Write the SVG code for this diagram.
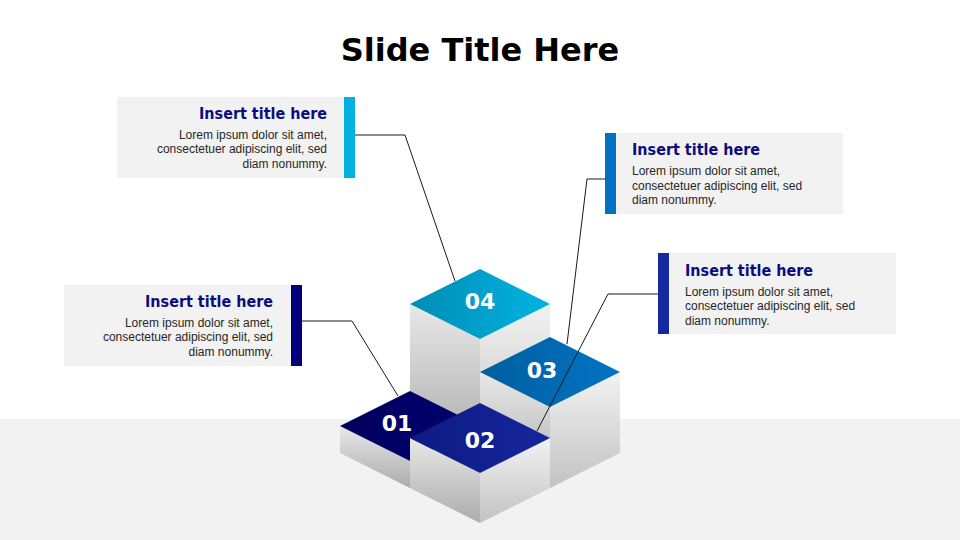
<svg xmlns="http://www.w3.org/2000/svg" width="960" height="540" viewBox="0 0 960 540">
  <defs>
    <linearGradient id="gLeft" x1="0" y1="0" x2="0" y2="1">
      <stop offset="0" stop-color="#e8e8e8"/>
      <stop offset="1" stop-color="#acacac"/>
    </linearGradient>
    <linearGradient id="gRight" x1="0" y1="0" x2="0" y2="1">
      <stop offset="0" stop-color="#f2f2f2"/>
      <stop offset="1" stop-color="#c2c2c2"/>
    </linearGradient>
    <linearGradient id="g04" x1="0" y1="0.5" x2="1" y2="0.5">
      <stop offset="0" stop-color="#008cb4"/>
      <stop offset="1" stop-color="#00b4e2"/>
    </linearGradient>
    <linearGradient id="g03" x1="0" y1="0.5" x2="1" y2="0.5">
      <stop offset="0" stop-color="#005e9e"/>
      <stop offset="1" stop-color="#0074c4"/>
    </linearGradient>
    <linearGradient id="g02" x1="0" y1="0.5" x2="1" y2="0.5">
      <stop offset="0" stop-color="#0e1b82"/>
      <stop offset="1" stop-color="#15259c"/>
    </linearGradient>
    <linearGradient id="g01" x1="0" y1="0.5" x2="1" y2="0.5">
      <stop offset="0" stop-color="#00005e"/>
      <stop offset="1" stop-color="#000070"/>
    </linearGradient>
  </defs>
  <style>
    .title { font-family: "DejaVu Sans", Verdana, sans-serif; font-weight: bold; font-size: 32px; fill: #000000; }
    .btitle { font-family: "DejaVu Sans", Verdana, sans-serif; font-weight: bold; font-size: 15.5px; fill: #0c0c80; }
    .body { font-family: "Liberation Sans", Arial, sans-serif; font-size: 12px; fill: #262626; }
    .num { font-family: "DejaVu Sans", Verdana, sans-serif; font-weight: bold; font-size: 22px; fill: #ffffff; text-anchor: middle; }
    .card { fill: #f2f2f2; }
    .lf { fill: url(#gLeft); }
    .rf { fill: url(#gRight); }
    .conn { fill: none; stroke: #1a1a1a; stroke-width: 1; }
  </style>

  <rect x="0" y="0" width="960" height="540" fill="#ffffff"/>
  <rect x="0" y="419" width="960" height="121" fill="#f2f2f2"/>

  <text class="title" x="480" y="61" text-anchor="middle">Slide Title Here</text>

  <!-- Blocks -->
  <g id="block04">
    <polygon class="lf" points="410,304 480,339 480,453 410,418"/>
    <polygon class="rf" points="480,339 550,304 550,418 480,453"/>
    <polygon fill="url(#g04)" points="480,269 550,304 480,339 410,304"/>
    <text class="num" x="480" y="309">04</text>
  </g>
  <g id="block03">
    <polygon class="lf" points="480,372 550,407 550,488 480,453"/>
    <polygon class="rf" points="550,407 620,372 620,453 550,488"/>
    <polygon fill="url(#g03)" points="550,337 620,372 550,407 480,372"/>
    <text class="num" x="542" y="378">03</text>
  </g>
  <g id="block01">
    <polygon class="lf" points="340,426 410,461 410,488 340,453"/>
    <polygon class="rf" points="410,461 480,426 480,453 410,488"/>
    <polygon fill="url(#g01)" points="410,391 480,426 410,461 340,426"/>
    <text class="num" x="397" y="431">01</text>
  </g>
  <g id="block02">
    <polygon class="lf" points="410,438 480,473 480,523 410,488"/>
    <polygon class="rf" points="480,473 550,438 550,488 480,523"/>
    <polygon fill="url(#g02)" points="480,403 550,438 480,473 410,438"/>
    <text class="num" x="480" y="448">02</text>
  </g>

  <!-- Text cards -->
  <g id="card04">
    <rect class="card" x="117" y="97" width="227" height="81"/>
    <rect x="344" y="97" width="11" height="81" fill="#00b0e0"/>
    <text class="btitle" x="327" y="119" text-anchor="end" textLength="128" lengthAdjust="spacingAndGlyphs">Insert title here</text>
    <text class="body" x="327" y="138.5" text-anchor="end">Lorem ipsum dolor sit amet,</text>
    <text class="body" x="327" y="153" text-anchor="end">consectetuer adipiscing elit, sed</text>
    <text class="body" x="327" y="167.5" text-anchor="end">diam nonummy.</text>
  </g>
  <g id="card01">
    <rect class="card" x="64" y="285" width="227" height="81"/>
    <rect x="291" y="285" width="11" height="81" fill="#00007a"/>
    <text class="btitle" x="273" y="307" text-anchor="end" textLength="128" lengthAdjust="spacingAndGlyphs">Insert title here</text>
    <text class="body" x="273" y="326.5" text-anchor="end">Lorem ipsum dolor sit amet,</text>
    <text class="body" x="273" y="341" text-anchor="end">consectetuer adipiscing elit, sed</text>
    <text class="body" x="273" y="355.5" text-anchor="end">diam nonummy.</text>
  </g>
  <g id="card03">
    <rect x="605" y="133" width="11" height="81" fill="#0070c4"/>
    <rect class="card" x="616" y="133" width="227" height="81"/>
    <text class="btitle" x="632" y="155" textLength="128" lengthAdjust="spacingAndGlyphs">Insert title here</text>
    <text class="body" x="632" y="175" >Lorem ipsum dolor sit amet,</text>
    <text class="body" x="632" y="189.5">consectetuer adipiscing elit, sed</text>
    <text class="body" x="632" y="204">diam nonummy.</text>
  </g>
  <g id="card02">
    <rect x="658" y="253" width="11" height="81" fill="#1428a0"/>
    <rect class="card" x="669" y="253" width="227" height="81"/>
    <text class="btitle" x="685" y="275.5" textLength="128" lengthAdjust="spacingAndGlyphs">Insert title here</text>
    <text class="body" x="685" y="295.5">Lorem ipsum dolor sit amet,</text>
    <text class="body" x="685" y="310">consectetuer adipiscing elit, sed</text>
    <text class="body" x="685" y="324.5">diam nonummy.</text>
  </g>

  <!-- Connectors -->
  <g id="connectors">
    <polyline class="conn" points="355,135 405,135 455,281"/>
    <polyline class="conn" points="302,321 352,321 398,396"/>
    <polyline class="conn" points="605,179 587,179 567,344"/>
    <polyline class="conn" points="658,294 608,294 537,431"/>
  </g>
</svg>
